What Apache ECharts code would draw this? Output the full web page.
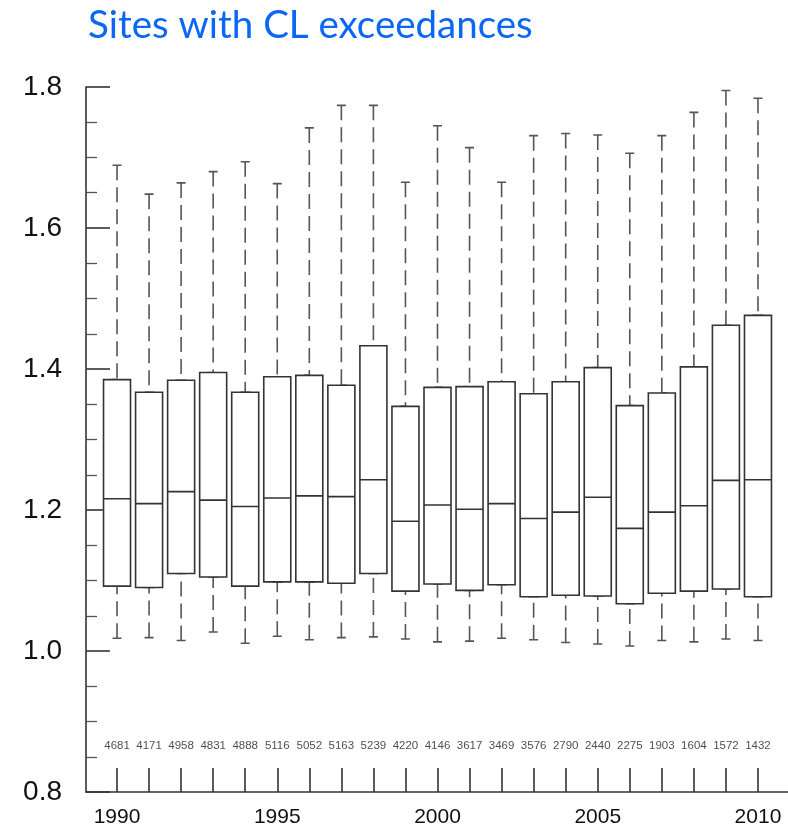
<!DOCTYPE html>
<html>
<head>
<meta charset="utf-8">
<script src="https://cdn.jsdelivr.net/npm/echarts@6/dist/echarts.min.js"></script>
<style>
html,body{margin:0;padding:0;background:#fff;}
#chart{width:788px;height:829px;}
</style>
</head>
<body>
<div id="chart"></div>
<script>
const years = ['1990','1991','1992','1993','1994','1995','1996','1997','1998','1999','2000','2001','2002','2003','2004','2005','2006','2007','2008','2009','2010'];
const whiskerLow = [1.018,1.019,1.015,1.027,1.011,1.021,1.016,1.019,1.020,1.017,1.013,1.014,1.018,1.016,1.012,1.010,1.007,1.015,1.013,1.017,1.015];
const q1 = [1.092,1.090,1.110,1.105,1.092,1.098,1.098,1.096,1.110,1.085,1.095,1.086,1.094,1.077,1.079,1.078,1.067,1.082,1.085,1.088,1.077];
const median = [1.216,1.209,1.226,1.214,1.205,1.217,1.220,1.219,1.243,1.184,1.207,1.201,1.209,1.188,1.197,1.218,1.174,1.197,1.206,1.242,1.243];
const q3 = [1.385,1.367,1.384,1.395,1.367,1.389,1.391,1.377,1.433,1.347,1.374,1.375,1.382,1.365,1.382,1.402,1.348,1.366,1.403,1.462,1.476];
const whiskerHigh = [1.689,1.648,1.664,1.680,1.694,1.663,1.742,1.774,1.774,1.665,1.745,1.714,1.665,1.731,1.734,1.732,1.706,1.731,1.764,1.795,1.784];
const counts = [4681,4171,4958,4831,4888,5116,5052,5163,5239,4220,4146,3617,3469,3576,2790,2440,2275,1903,1604,1572,1432];
const countLevel = 0.866;
const yTicks = [0.8, 1.0, 1.2, 1.4, 1.6, 1.8];

const whiskerData = years.map((y, i) => [whiskerLow[i], q1[i], median[i], q3[i], whiskerHigh[i]]);
const boxData = years.map((y, i) => [q1[i], q1[i], median[i], q3[i], q3[i]]);
const countData = years.map((y, i) => [i, countLevel]);

const chart = echarts.init(document.getElementById('chart'), null, {renderer: 'canvas'});
const axisColor = '#333';
const hiddenCat = gi => ({gridIndex: gi, type: 'category', data: years, boundaryGap: true, show: false});
const hiddenVal = gi => ({gridIndex: gi, type: 'value', min: 0.8, max: 1.8, show: false, splitLine: {show: false}});
chart.setOption({
  animation: false,
  backgroundColor: '#fff',
  title: {
    text: 'Sites with CL exceedances',
    left: 83, top: 1,
    textStyle: {color: '#0a66f5', fontFamily: 'Lato', fontWeight: 'normal', fontSize: 38.5}
  },
  grid: [
    {left: 86, right: 0, top: 87, bottom: 37},
    {left: 101, right: 14, top: 87, bottom: 37},
    {left: 101, right: 14, top: 87, bottom: 37}
  ],
  xAxis: [
    {
      gridIndex: 0, type: 'value', min: 0, max: 1,
      axisLine: {show: true, lineStyle: {color: axisColor, width: 1.6}},
      axisTick: {show: false}, axisLabel: {show: false}, splitLine: {show: false}
    },
    {
      gridIndex: 1, type: 'category', data: years, boundaryGap: true,
      axisLine: {show: false},
      axisTick: {show: true, inside: true, alignWithLabel: true, interval: 0, length: 24,
                 lineStyle: {color: axisColor, width: 1.6}},
      axisLabel: {interval: 4, fontSize: 21, margin: 15, color: '#111', fontFamily: 'Liberation Sans'},
      splitLine: {show: false}
    },
    hiddenCat(2)
  ],
  yAxis: [
    {
      gridIndex: 0, type: 'value', min: 0.8, max: 1.8, interval: 0.2,
      axisLine: {show: true, lineStyle: {color: axisColor, width: 1.6}},
      axisTick: {show: true, inside: true, length: 24, lineStyle: {color: axisColor, width: 1.6}},
      minorTick: {show: true, splitNumber: 4, length: 11, lineStyle: {color: '#555', width: 1.3}},
      axisLabel: {fontSize: 28, margin: 24, color: '#111', fontFamily: 'Liberation Sans',
                  formatter: v => yTicks.includes(+v.toFixed(1)) ? v.toFixed(1) : ''},
      splitLine: {show: false}
    },
    hiddenVal(1),
    hiddenVal(2)
  ],
  series: [
    {
      type: 'boxplot', xAxisIndex: 2, yAxisIndex: 2,
      boxWidth: [9, 9],
      itemStyle: {color: 'transparent', borderColor: '#555', borderWidth: 1.6, borderType: [15, 7]},
      data: whiskerData, z: 2
    },
    {
      type: 'boxplot', xAxisIndex: 1, yAxisIndex: 1,
      boxWidth: [27, 27],
      itemStyle: {color: '#fff', borderColor: '#333', borderWidth: 1.6},
      data: boxData, z: 3
    },
    {
      type: 'scatter', xAxisIndex: 1, yAxisIndex: 1,
      symbolSize: 1, itemStyle: {color: 'transparent'},
      label: {show: true, position: 'inside', fontSize: 11.5, color: '#222', fontFamily: 'Liberation Sans',
              formatter: p => String(counts[p.dataIndex])},
      data: countData, z: 4
    }
  ]
});
</script>
</body>
</html>
